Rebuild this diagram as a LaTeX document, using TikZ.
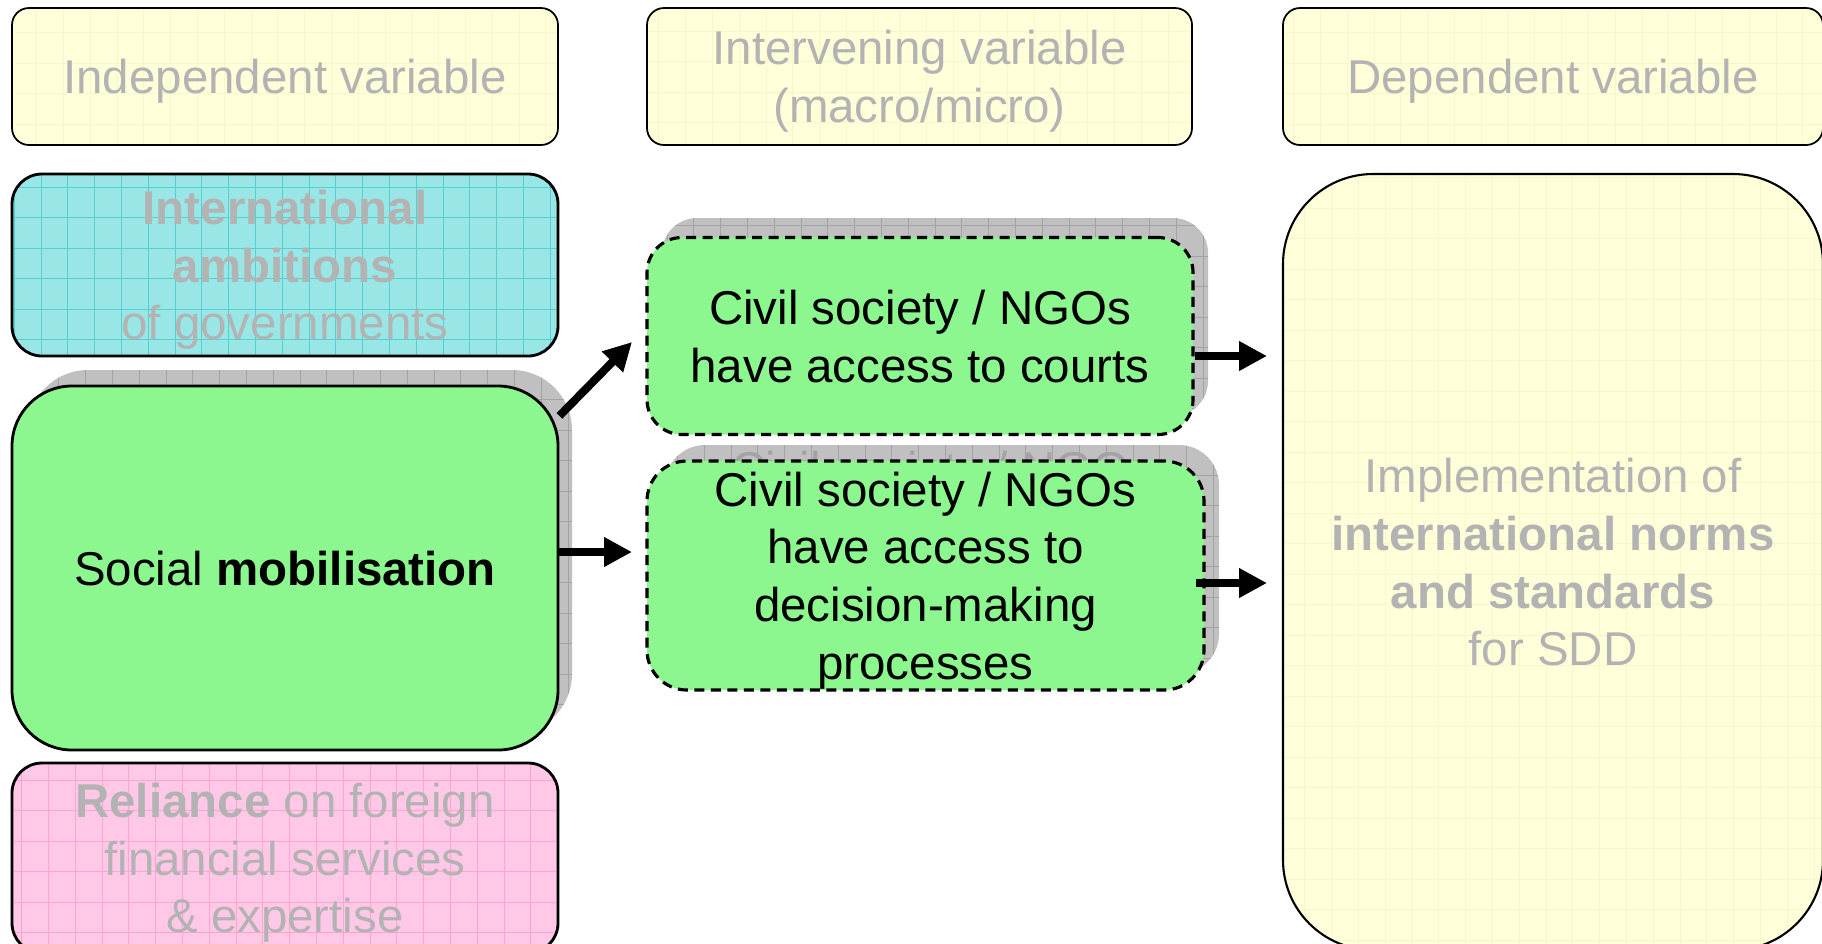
\documentclass[tikz,border=0pt]{standalone}
\usepackage{fontspec}
\setmainfont{Liberation Sans}
\usepackage{xcolor}
\definecolor{boxYellow}{HTML}{FFFFD9}
\definecolor{gridYellow}{HTML}{F7F7C9}
\definecolor{boxCyan}{HTML}{99E6E6}
\definecolor{gridCyan}{HTML}{55CFCF}
\definecolor{boxGreen}{HTML}{8CF78F}
\definecolor{boxPink}{HTML}{FFC8E6}
\definecolor{gridPink}{HTML}{FFA3D1}
\definecolor{shadowGray}{HTML}{C0C0C0}
\definecolor{gridGray}{HTML}{A3A3A3}
\definecolor{ghostText}{HTML}{B3B3B3}
\usetikzlibrary{arrows.meta}

\begin{document}
\begin{tikzpicture}[
  base/.style={draw,align=center,inner sep=0pt,text depth=0pt,
    font=\fontsize{13.5}{16.4}\selectfont},
  gridded/.style={path picture={\draw[#1,line width=0.25pt,shift={(0.109,-0.237)},
    xstep=0.268,ystep=0.305] (path picture bounding box.south west) grid
    (path picture bounding box.north east);}},
  head/.style={base,fill=boxYellow,gridded=gridYellow,rounded corners=1.7mm,
    line width=0.5pt,text=ghostText,minimum width=5.46cm,minimum height=1.37cm},
  ghost/.style={base,line width=0.8pt,text=ghostText,rounded corners=3mm,
    minimum width=5.46cm},
  shade/.style={base,draw=none,fill=shadowGray,gridded=gridGray,rounded corners=#1},
  active/.style={base,fill=boxGreen,line width=0.8pt},
  inter/.style={active,line width=0.9pt,dash pattern=on 1mm off 0.65mm,
    rounded corners=3.5mm,minimum width=5.46cm},
  arr/.style={-{Triangle[length=2.8mm,width=2.8mm]},line width=2.3pt}]
  \useasboundingbox (0,0) rectangle (18.22,-9.43);
  % column heads
  \node[head] (indep) at (2.85,-0.765) {Independent variable};
  \node[head,minimum width=5.45cm] (interv) at (9.195,-0.765) {Intervening variable\\(macro/micro)};
  \node[head,minimum width=5.40cm] (dep) at (15.53,-0.765) {Dependent variable};
  % independent variables
  \node[ghost,fill=boxCyan,gridded=gridCyan,minimum height=1.82cm] (ambit) at (2.85,-2.65)
    {\textbf{International}\\\textbf{ambitions}\\of governments};
  \node[shade=6mm,minimum width=5.44cm,minimum height=3.64cm] (socialsh) at (3.0,-5.52) {};
  \node[active,rounded corners=6mm,minimum width=5.46cm,minimum height=3.64cm] (social)
    at (2.85,-5.68) {Social \textbf{mobilisation}};
  \node[ghost,fill=boxPink,gridded=gridPink,minimum height=1.90cm] (reli) at (2.85,-8.58)
    {\textbf{Reliance} on foreign\\financial services\\\& expertise};
  % intervening variables
  \node[shade=3.5mm,minimum width=5.46cm,minimum height=1.98cm] (courtssh) at (9.35,-3.17) {};
  \node[inter,minimum height=1.97cm] (courts) at (9.20,-3.36)
    {Civil society / NGOs\\have access to courts};
  \node[shade=4mm,text=gridGray,text depth=,minimum width=5.54cm,minimum height=2.29cm]
    (decish) at (9.42,-5.595) {Civil society / NGOs\\have access to\\decision-making\\processes};
  \node[inter,rounded corners=4mm,minimum width=5.57cm,minimum height=2.29cm] (decis)
    at (9.255,-5.755) {Civil society / NGOs\\have access to\\decision-making\\processes};
  % dependent variable
  \node[base,fill=boxYellow,gridded=gridYellow,rounded corners=9mm,line width=0.6pt,
    text=ghostText,minimum width=5.40cm,minimum height=7.76cm] (impl) at (15.53,-5.62)
    {Implementation of\\\textbf{international norms}\\\textbf{and standards}\\for SDD};
  % connectors
  \coordinate (tipA) at (6.32,-3.42);
  \coordinate (tipB) at (6.32,-5.52);
  \coordinate (tipC) at (12.67,-3.56);
  \coordinate (tipD) at (12.67,-5.83);
  \draw[arr] (social.29)--(tipA);
  \draw[arr] (social.east |- tipB)--(tipB);
  \draw[arr] (courts.east |- tipC)--(tipC);
  \draw[arr] ([xshift=-1mm]decis.east |- tipD)--(tipD);
\end{tikzpicture}
\end{document}
